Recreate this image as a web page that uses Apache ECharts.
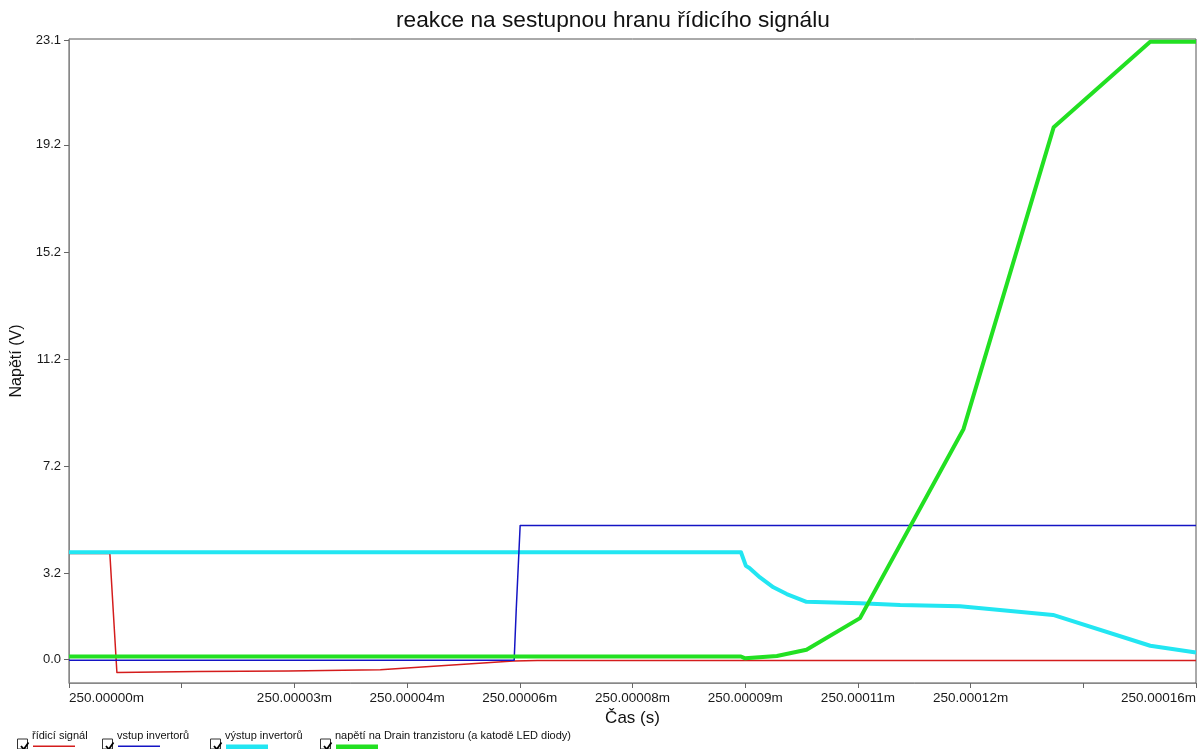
<!DOCTYPE html>
<html>
<head>
<meta charset="utf-8">
<script src="https://cdn.jsdelivr.net/npm/echarts@6/dist/echarts.min.js"></script>
<style>
  html, body { margin: 0; padding: 0; background: #ffffff; }
  #chart { width: 1200px; height: 749px; }
</style>
</head>
<body>
<div id="chart"></div>
<script>
// Time axis: nanoseconds after 250 ms; tick labels as printed by the simulator
const timeTickLabels = ['250.00000m', '', '250.00003m', '250.00004m', '250.00006m',
  '250.00008m', '250.00009m', '250.00011m', '250.00012m', '', '250.00016m'];
const voltageTicks = [0, 3.2, 7.2, 11.2, 15.2, 19.2, 23.1];

const seriesNames = ['řídicí signál', 'vstup invertorů', 'výstup invertorů',
  'napětí na Drain tranzistoru (a katodě LED diody)'];

// [time (ns after 250 ms), voltage (V)]
const controlSignal = [
  [0, 3.95], [5.8, 3.95], [6.8, -0.49], [18.3, -0.45], [31.1, -0.43],
  [44.2, -0.39], [63.1, -0.06], [66.5, -0.04], [160, -0.04]
];
const inverterInput = [
  [0, -0.03], [63.2, -0.03], [63.5, 1.9], [64.05, 5.0], [160, 5.0]
];
const inverterOutput = [
  [0, 4.0], [95.4, 4.0], [96.1, 3.49], [96.6, 3.41], [98.1, 3.06], [100.0, 2.69],
  [101.9, 2.44], [104.7, 2.15], [112.3, 2.10], [118.0, 2.03], [126.5, 1.98],
  [139.7, 1.66], [153.5, 0.51], [160, 0.26]
];
const drainVoltage = [
  [0, 0.11], [95.4, 0.11], [96.0, 0.04], [100.5, 0.13], [104.7, 0.36],
  [112.3, 1.54], [127.0, 8.60], [139.8, 19.86], [153.5, 23.05], [160, 23.05]
];

const FONT = "'Liberation Sans', Arial, sans-serif";
const lineColors = ['#d41c1c', '#1414c4', '#22e6f2', '#22e022'];
const lineWidths = [1.5, 1.5, 4, 4];
const lineZ = [2, 3, 2, 4];

// Checkbox-style key under the plot: checkbox, label, and a swatch below the label
const keyLeft = [17, 102, 210, 320];
const keyGraphics = [];
seriesNames.forEach((name, i) => {
  const x = keyLeft[i];
  keyGraphics.push({
    type: 'rect', left: x, top: 738.5,
    shape: { x: 0, y: 0, width: 10, height: 10 },
    style: { fill: '#fff', stroke: '#333', lineWidth: 1 }
  });
  keyGraphics.push({
    type: 'polyline', left: x + 1.5, top: 740,
    shape: { points: [[0, 3.5], [2.8, 6.8], [7.5, 0]] },
    style: { fill: null, stroke: '#000', lineWidth: 1.8 }
  });
  keyGraphics.push({
    type: 'text', left: x + 15, top: 730,
    style: { text: name, fill: '#111', font: '11px ' + FONT }
  });
  const thick = lineWidths[i] > 2;
  keyGraphics.push({
    type: 'rect', left: x + 16, top: thick ? 744.5 : 745.5,
    shape: { x: 0, y: 0, width: 42, height: thick ? 5 : 1.6 },
    style: { fill: lineColors[i] }
  });
});

const chart = echarts.init(document.getElementById('chart'), null, { renderer: 'canvas' });
chart.setOption({
  backgroundColor: '#ffffff',
  animation: false,
  textStyle: { fontFamily: FONT },
  title: {
    text: 'reakce na sestupnou hranu řídicího signálu',
    left: 391, top: 4,
    textStyle: { fontSize: 22.7, fontWeight: 'normal', color: '#111', fontFamily: FONT }
  },
  grid: {
    left: 69, right: 4, top: 39, bottom: 66,
    outerBoundsMode: 'none', containLabel: false,
    show: true, borderColor: '#555', borderWidth: 1, backgroundColor: 'transparent'
  },
  xAxis: {
    type: 'value', min: 0, max: 160, interval: 16,
    name: 'Čas (s)', nameLocation: 'middle', nameGap: 27,
    nameTextStyle: { fontSize: 17, color: '#111', fontFamily: FONT },
    axisLine: { show: true, onZero: false, lineStyle: { color: '#888', width: 1 } },
    axisTick: { show: true, length: 5, lineStyle: { color: '#666' } },
    splitLine: { show: false },
    axisLabel: {
      color: '#1a1a1a', fontSize: 13.5, fontFamily: FONT, margin: 8,
      alignMinLabel: 'left', alignMaxLabel: 'right',
      formatter: v => timeTickLabels[Math.round(v / 16)] || ''
    }
  },
  yAxis: {
    type: 'value', min: -0.88, max: 23.15,
    name: 'Napětí (V)', nameLocation: 'middle', nameGap: 40, nameRotate: 90,
    nameTextStyle: { fontSize: 16, color: '#111', fontFamily: FONT },
    axisLine: { show: true, onZero: false, lineStyle: { color: '#888', width: 1 } },
    axisTick: { show: true, length: 5, customValues: voltageTicks, lineStyle: { color: '#666' } },
    splitLine: { show: false },
    axisLabel: {
      color: '#1a1a1a', fontSize: 13, fontFamily: FONT, margin: 8,
      customValues: voltageTicks,
      formatter: v => v.toFixed(1)
    }
  },
  series: [controlSignal, inverterInput, inverterOutput, drainVoltage].map((data, i) => ({
    name: seriesNames[i],
    type: 'line',
    data: data,
    showSymbol: false,
    symbol: 'none',
    z: lineZ[i],
    lineStyle: { color: lineColors[i], width: lineWidths[i], join: 'round' },
    itemStyle: { color: lineColors[i] }
  })),
  graphic: keyGraphics
});
</script>
</body>
</html>
